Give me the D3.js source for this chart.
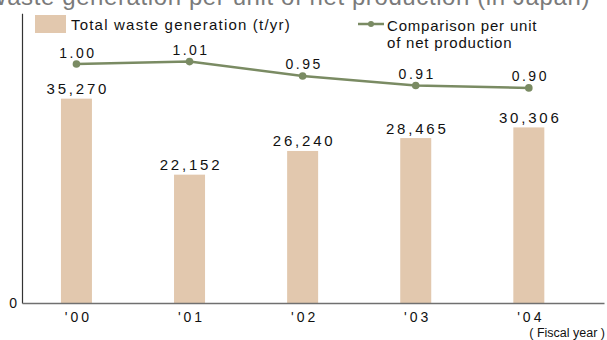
<!DOCTYPE html>
<html>
<head>
<meta charset="utf-8">
<script src="https://cdn.jsdelivr.net/npm/d3@7/dist/d3.min.js"></script>
<style>
  html, body { margin: 0; padding: 0; background: #fff; }
  svg { display: block; font-family: "Liberation Sans", Arial, sans-serif; }
</style>
</head>
<body>
<svg id="chart" width="607" height="340"></svg>
<script>
// Fiscal years on the horizontal axis
const years = ["'00", "'01", "'02", "'03", "'04"];
// Total waste generation, tonnes per year
const wasteTonnes = [35270, 22152, 26240, 28465, 30306];
// Waste per unit of net production, relative to FY2000
const ratioPerUnit = [1.00, 1.01, 0.95, 0.91, 0.90];
// Value-axis tick
const yTicks = [0];

const svg = d3.select("#chart");
const W = 607, H = 340;

const x = d3.scalePoint()
  .domain(years)
  .range([22, 604])
  .padding(0.573)
  .align(0.42);

const y = d3.scaleLinear().domain([0, 50000]).range([303, 13.3]);
const y2 = d3.scaleLinear().domain([0, 1.2]).range([303, 16.2]);

const barColor = "#e2c8ae";
const lineColor = "#7a8b63";
const barW = 31;

// Title (partially above the visible area)
svg.append("text")
  .attr("x", 590).attr("y", 5)
  .attr("text-anchor", "end")
  .attr("fill", "#7a7a7a")
  .attr("font-size", 24)
  .attr("letter-spacing", 0.6)
  .text("Waste generation per unit of net production (in Japan)");

// Bars
svg.append("g").selectAll("rect")
  .data(wasteTonnes)
  .join("rect")
  .attr("x", (d, i) => x(years[i]) - barW / 2)
  .attr("y", d => y(d))
  .attr("width", barW)
  .attr("height", d => y(0) - y(d))
  .attr("fill", barColor);

// Bar value labels
svg.append("g").selectAll("text")
  .data(wasteTonnes)
  .join("text")
  .attr("x", (d, i) => x(years[i]) + 1.5)
  .attr("y", d => y(d) - 4.5)
  .attr("text-anchor", "middle")
  .attr("font-size", 15)
  .attr("letter-spacing", 2.8)
  .attr("fill", "#111")
  .text(d => d3.format(",")(d));

// Y axis
const yAxis = svg.append("g")
  .attr("transform", "translate(22,0)")
  .call(d3.axisLeft(y).tickValues(yTicks).tickSize(0).tickPadding(5).tickFormat(d3.format("d")));
yAxis.select(".domain").attr("stroke", "#333").attr("stroke-width", 1.2);
yAxis.selectAll("text").attr("font-size", 14).attr("fill", "#111")
  .attr("font-family", "Liberation Sans, Arial, sans-serif");

// X axis
const xAxis = svg.append("g")
  .attr("transform", `translate(0,${y(0)})`)
  .call(d3.axisBottom(x).tickSize(0).tickPadding(9));
xAxis.select(".domain").attr("stroke", "#707070").attr("stroke-width", 1.6);
xAxis.selectAll("text").attr("font-size", 14).attr("fill", "#111")
  .attr("letter-spacing", 3)
  .attr("dx", 1.5)
  .attr("font-family", "Liberation Sans, Arial, sans-serif");

svg.append("text")
  .attr("x", 605).attr("y", 337)
  .attr("text-anchor", "end")
  .attr("font-size", 12.5)
  .attr("fill", "#111")
  .text("( Fiscal year )");

// Ratio line
const line = d3.line()
  .x((d, i) => x(years[i]))
  .y(d => y2(d));

svg.append("path")
  .datum(ratioPerUnit)
  .attr("d", line)
  .attr("fill", "none")
  .attr("stroke", lineColor)
  .attr("stroke-width", 2.5);

svg.append("g").selectAll("circle")
  .data(ratioPerUnit)
  .join("circle")
  .attr("cx", (d, i) => x(years[i]))
  .attr("cy", d => y2(d))
  .attr("r", 3.8)
  .attr("fill", lineColor);

svg.append("g").selectAll("text")
  .data(ratioPerUnit)
  .join("text")
  .attr("x", (d, i) => x(years[i]) + 1.5)
  .attr("y", d => y2(d) - 6.5)
  .attr("text-anchor", "middle")
  .attr("font-size", 14)
  .attr("letter-spacing", 2.5)
  .attr("fill", "#111")
  .text(d => d3.format(".2f")(d));

// Legend
const legend = svg.append("g");
legend.append("rect")
  .attr("x", 35).attr("y", 15).attr("width", 31).attr("height", 18)
  .attr("fill", barColor);
legend.append("text")
  .attr("x", 71).attr("y", 29.5)
  .attr("font-size", 15)
  .attr("letter-spacing", 1.2)
  .attr("fill", "#111")
  .text("Total waste generation (t/yr)");

legend.append("line")
  .attr("x1", 358).attr("x2", 384).attr("y1", 24).attr("y2", 24)
  .attr("stroke", lineColor).attr("stroke-width", 2.5);
legend.append("circle")
  .attr("cx", 371).attr("cy", 24).attr("r", 3)
  .attr("fill", lineColor);
const lt = legend.append("text")
  .attr("font-size", 15)
  .attr("letter-spacing", 0.8)
  .attr("fill", "#111");
lt.append("tspan").attr("x", 387).attr("y", 31).text("Comparison per unit");
lt.append("tspan").attr("x", 387).attr("y", 47.5).text("of net production");
</script>
</body>
</html>
